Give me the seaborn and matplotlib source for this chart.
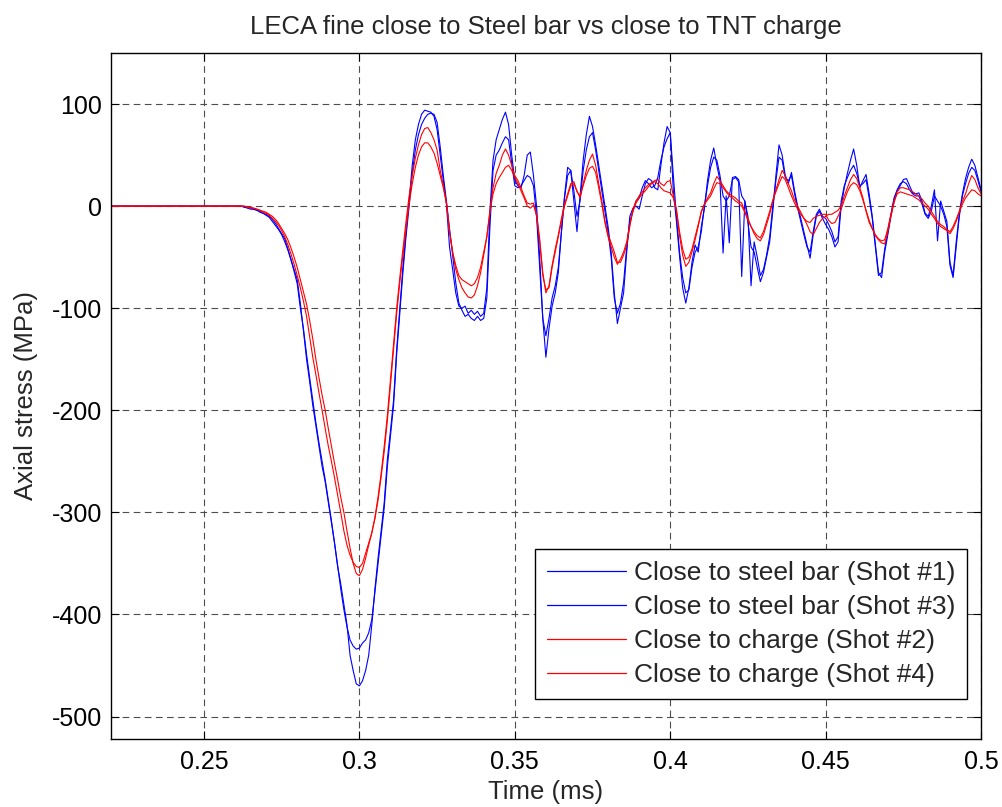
import numpy as np
import pandas as pd
import matplotlib
matplotlib.use("Agg")
import matplotlib.pyplot as plt
from matplotlib.lines import Line2D
import seaborn as sns

# ---------------- data ----------------
TITLE = "LECA fine close to Steel bar vs close to TNT charge"
X_LABEL = "Time (ms)"
Y_LABEL = "Axial stress (MPa)"

X_TICKS = [0.25, 0.3, 0.35, 0.4, 0.45, 0.5]
X_TICK_LABELS = ["0.25", "0.3", "0.35", "0.4", "0.45", "0.5"]
Y_TICKS = [100, 0, -100, -200, -300, -400, -500]
Y_TICK_LABELS = ["100", "0", "-100", "-200", "-300", "-400", "-500"]

SERIES_LABELS = [
    "Close to steel bar (Shot #1)",
    "Close to steel bar (Shot #3)",
    "Close to charge (Shot #2)",
    "Close to charge (Shot #4)",
]

TIME_MS = [
    0.220,
    0.260, 0.261, 0.262, 0.263, 0.264, 0.265, 0.266, 0.267, 0.268, 0.269,
    0.270, 0.271, 0.272, 0.273, 0.274, 0.275, 0.276, 0.277, 0.278, 0.279,
    0.280, 0.281, 0.282, 0.283, 0.284, 0.285, 0.286, 0.287, 0.288, 0.289,
    0.290, 0.291, 0.292, 0.293, 0.294, 0.295, 0.296, 0.297, 0.298, 0.299,
    0.300, 0.301, 0.302, 0.303, 0.304, 0.305, 0.306, 0.307, 0.308, 0.309,
    0.310, 0.311, 0.312, 0.313, 0.314, 0.315, 0.316, 0.317, 0.318, 0.319,
    0.320, 0.321, 0.322, 0.323, 0.324, 0.325, 0.326, 0.327, 0.328, 0.329,
    0.330, 0.331, 0.332, 0.333, 0.334, 0.335, 0.336, 0.337, 0.338, 0.339,
    0.340, 0.341, 0.342, 0.343, 0.344, 0.345, 0.346, 0.347, 0.348, 0.349,
    0.350, 0.351, 0.352, 0.353, 0.354, 0.355, 0.356, 0.357, 0.358, 0.359,
    0.360, 0.361, 0.362, 0.363, 0.364, 0.365, 0.366, 0.367, 0.368, 0.369,
    0.370, 0.371, 0.372, 0.373, 0.374, 0.375, 0.376, 0.377, 0.378, 0.379,
    0.380, 0.381, 0.382, 0.383, 0.384, 0.385, 0.386, 0.387, 0.388, 0.389,
    0.390, 0.391, 0.392, 0.393, 0.394, 0.395, 0.396, 0.397, 0.398, 0.399,
    0.400, 0.401, 0.402, 0.403, 0.404, 0.405, 0.406, 0.407, 0.408, 0.409,
    0.410, 0.411, 0.412, 0.413, 0.414, 0.415, 0.416, 0.417, 0.418, 0.419,
    0.420, 0.421, 0.422, 0.423, 0.424, 0.425, 0.426, 0.427, 0.428, 0.429,
    0.430, 0.431, 0.432, 0.433, 0.434, 0.435, 0.436, 0.437, 0.438, 0.439,
    0.440, 0.441, 0.442, 0.443, 0.444, 0.445, 0.446, 0.447, 0.448, 0.449,
    0.450, 0.451, 0.452, 0.453, 0.454, 0.455, 0.456, 0.457, 0.458, 0.459,
    0.460, 0.461, 0.462, 0.463, 0.464, 0.465, 0.466, 0.467, 0.468, 0.469,
    0.470, 0.471, 0.472, 0.473, 0.474, 0.475, 0.476, 0.477, 0.478, 0.479,
    0.480, 0.481, 0.482, 0.483, 0.484, 0.485, 0.486, 0.487, 0.488, 0.489,
    0.490, 0.491, 0.492, 0.493, 0.494, 0.495, 0.496, 0.497, 0.498, 0.499,
    0.500,
]

STEEL_SHOT1 = [
    0,
    0, 0, 0, -1, -1, -2, -3, -4, -5, -7,
    -8, -10, -13, -17, -22, -27, -32, -42, -52, -62,
    -72, -95, -122, -150, -172, -195, -215, -235, -255, -270,
    -290, -310, -330, -353, -370, -390, -410, -440, -455, -468,
    -470, -465, -455, -440, -410, -375, -345, -318, -290, -248,
    -220, -190, -140, -100, -60, -25, 5, 40, 65, 80,
    90, 94, 93, 92, 88, 75, 50, 25, 2, -40,
    -62, -85, -98, -100, -98, -105, -102, -106, -103, -108,
    -105, -80, -5, 45, 65, 75, 85, 92, 80, 50,
    25, 20, 18, 30, 50, 53, 30, 0, -50, -110,
    -148, -120, -98, -85, -65, -25, 10, 38, 35, 5,
    -25, 10, 45, 70, 88, 78, 60, 40, 20, 0,
    -20, -45, -85, -115, -100, -85, -45, -10, -2, 0,
    -3, 10, 22, 27, 25, 18, 16, 40, 62, 78,
    72, 15, -15, -49, -80, -95, -80, -55, -38, -45,
    -20, -2, 25, 45, 57, 40, 25, -46, 10, -36,
    28, 29, 26, 10, 5, -16, -40, -45, -60, -74,
    -65, -50, -35, -5, 30, 60, 50, 30, 22, 33,
    15, 0, -12, -25, -38, -51, -28, -10, -5, -12,
    -18, -23, -30, -40, -35, 0, 18, 32, 45, 56,
    40, 18, 25, 31, 12, -10, -38, -65, -70, -45,
    -28, -10, 6, 15, 20, 26, 27, 20, 13, 12,
    13, 5, -7, -10, 0, 16, -34, 5, -5, -15,
    -55, -68, -35, -8, 12, 27, 38, 46, 40, 28,
    16,
]

STEEL_SHOT3 = [
    0,
    0, 0, 0, -1, -2, -3, -3, -4, -6, -7,
    -9, -11, -15, -19, -23, -28, -35, -43, -53, -64,
    -76, -100, -120, -145, -168, -190, -212, -232, -250, -268,
    -288, -308, -330, -352, -375, -395, -412, -425, -431, -434,
    -433, -428, -425, -418, -405, -378, -350, -322, -295, -255,
    -225, -195, -145, -105, -65, -30, 0, 32, 55, 70,
    80, 86, 90, 91, 90, 82, 58, 30, 5, -22,
    -48, -75, -95, -102, -108, -106, -110, -112, -108, -112,
    -110, -90, -20, 35, 50, 55, 62, 68, 65, 42,
    20, 18, 20, 25, 30, 28, 20, -10, -60, -110,
    -127, -110, -90, -78, -60, -25, 8, 30, 35, 15,
    -10, 5, 35, 55, 68, 72, 55, 35, 15, -5,
    -25, -50, -90, -105, -95, -75, -40, -15, -5, 5,
    8, 18, 25, 22, 18, 20, 28, 45, 58, 66,
    72, 30, -10, -45, -70, -85, -82, -60, -45, -40,
    -25, 0, 20, 38, 48, 45, 30, 10, 5, 10,
    26, 28, 24, -69, 5, -10, -78, -35, -50, -68,
    -62, -48, -30, 0, 25, 48, 45, 28, 25, 30,
    12, -2, -15, -28, -40, -45, -25, -8, -3, -10,
    -12, -18, -25, -35, -30, 5, 20, 28, 35, 40,
    32, 20, 22, 26, 8, -12, -40, -68, -65, -42,
    -25, -8, 8, 16, 22, 24, 22, 16, 12, 10,
    10, 2, -8, -12, -5, 10, 5, 0, -8, -20,
    -58, -70, -40, -10, 10, 22, 32, 38, 35, 25,
    14,
]

CHARGE_SHOT2 = [
    0,
    0, 0, 0, 0, -1, -2, -2, -3, -4, -6,
    -7, -9, -12, -15, -19, -24, -30, -38, -47, -57,
    -68, -80, -93, -108, -128, -148, -165, -183, -200, -218,
    -235, -250, -266, -283, -300, -318, -332, -342, -349, -353,
    -354, -350, -340, -330, -320, -305, -285, -262, -235, -205,
    -170, -135, -100, -70, -42, -15, 10, 30, 47, 60,
    70, 76, 77, 72, 65, 55, 35, 20, 3, -25,
    -45, -58, -68, -72, -74, -76, -78, -76, -70, -60,
    -45, -30, -5, 18, 32, 40, 50, 56, 50, 40,
    30, 25, 18, 10, 3, 2, 3, -10, -35, -68,
    -82, -80, -60, -45, -30, -15, 0, 10, 20, 22,
    15, 8, 22, 35, 45, 51, 40, 22, 5, -15,
    -28, -36, -45, -55, -55, -48, -38, -20, -3, 5,
    10, 14, 18, 21, 23, 25, 26, 22, 20, 24,
    25, 10, -5, -29, -48, -59, -55, -45, -33, -20,
    -5, 2, 8, 13, 22, 29, 25, 20, 15, 12,
    10, 8, 5, 3, -5, -12, -20, -27, -32, -34,
    -28, -18, -8, 5, 16, 26, 35, 30, 22, 15,
    6, 0, -6, -12, -18, -25, -28, -22, -16, -12,
    -10, -8, -8, -6, -4, 0, 10, 18, 26, 31,
    27, 18, 8, -5, -16, -22, -29, -33, -36, -37,
    -25, -10, 3, 14, 18, 18, 17, 16, 14, 12,
    10, 7, 3, 0, -5, -10, -15, -18, -20, -23,
    -25, -20, -13, -5, 5, 12, 22, 30, 26, 18,
    12,
]

CHARGE_SHOT4 = [
    0,
    0, 0, 0, 0, -1, -1, -2, -3, -4, -5,
    -6, -8, -10, -13, -17, -22, -27, -33, -41, -50,
    -60, -72, -84, -96, -112, -130, -150, -168, -185, -200,
    -218, -235, -252, -268, -285, -300, -318, -335, -350, -360,
    -362, -356, -345, -332, -320, -306, -288, -265, -240, -210,
    -175, -140, -105, -75, -48, -22, 2, 22, 38, 50,
    58, 62, 62, 58, 52, 42, 30, 18, 3, -25,
    -45, -62, -72, -80, -85, -89, -90, -87, -78, -65,
    -48, -30, -5, 12, 22, 28, 33, 38, 40, 35,
    28, 22, 15, 8, 0, -2, 1, -8, -32, -65,
    -85, -78, -58, -42, -28, -12, 2, 12, 22, 24,
    14, 10, 20, 30, 37, 39, 33, 18, 2, -16,
    -30, -40, -50, -57, -52, -45, -35, -18, -5, 3,
    8, 12, 15, 19, 22, 24, 22, 18, 15, 14,
    13, 8, -3, -25, -42, -52, -50, -42, -30, -18,
    -6, 2, 6, 10, 17, 23, 22, 18, 14, 10,
    8, 5, 3, 0, -6, -14, -20, -25, -29, -31,
    -25, -15, -5, 6, 14, 22, 29, 26, 18, 10,
    3, -3, -8, -12, -15, -16, -12, -10, -9, -8,
    -8, -14, -17, -16, -10, -3, 6, 14, 20, 23,
    21, 15, 6, -4, -14, -22, -28, -32, -34, -33,
    -22, -8, 5, 12, 14, 13, 12, 11, 10, 8,
    6, 3, 0, -3, -8, -12, -17, -20, -22, -24,
    -27, -22, -15, -6, 2, 8, 12, 16, 15, 12,
    10,
]

SERIES_VALUES = [STEEL_SHOT1, STEEL_SHOT3, CHARGE_SHOT2, CHARGE_SHOT4]
SERIES_COLORS = ["#0000ff", "#0000ff", "#ff0000", "#ff0000"]

X_LIMITS = (0.22, 0.5)
Y_LIMITS = (-522, 150)

# ---------------- styling ----------------
sns.set_theme(style="ticks")
plt.rcParams["font.family"] = ["Liberation Sans", "DejaVu Sans"]
plt.rcParams["axes.unicode_minus"] = False
FS_TICK = 18
FS_TEXT = 18.5
FS_LEGEND = 19

frames = []
for name, vals in zip(SERIES_LABELS, SERIES_VALUES):
    assert len(vals) == len(TIME_MS), (name, len(vals), len(TIME_MS))
    frames.append(pd.DataFrame({"t": TIME_MS, "stress": vals, "series": name}))
df = pd.concat(frames, ignore_index=True)

fig = plt.figure(figsize=(10.02, 8.07), dpi=100)
ax = fig.add_axes([0.1105, 0.0843, 0.8686, 0.8500])

sns.lineplot(
    data=df, x="t", y="stress", hue="series", hue_order=SERIES_LABELS,
    palette=dict(zip(SERIES_LABELS, SERIES_COLORS)),
    estimator=None, sort=False, linewidth=0.8, ax=ax, legend=False,
)

ax.set_xlim(*X_LIMITS)
ax.set_ylim(*Y_LIMITS)
ax.set_xticks(X_TICKS)
ax.set_xticklabels(X_TICK_LABELS)
ax.set_yticks(Y_TICKS)
ax.set_yticklabels(Y_TICK_LABELS)

ax.grid(True, which="major", linestyle=(0, (6, 4)), color="#4d4d4d", linewidth=0.8)
ax.set_axisbelow(True)

for sp in ax.spines.values():
    sp.set_visible(True)
    sp.set_color("black")
    sp.set_linewidth(1.0)

ax.tick_params(axis="both", direction="in", length=6, width=0.8, colors="black",
               top=True, right=True, labelsize=FS_TICK)
ax.tick_params(axis="x", pad=8)
ax.tick_params(axis="y", pad=6)

ax.set_xlabel(X_LABEL, fontsize=FS_TEXT, labelpad=4)
ax.set_ylabel(Y_LABEL, fontsize=FS_TEXT, labelpad=10)
ax.set_title(TITLE, fontsize=FS_TEXT, pad=14)

handles = [Line2D([0], [0], color=c, linewidth=0.9) for c in SERIES_COLORS]
leg = ax.legend(handles, SERIES_LABELS, loc="lower right",
                bbox_to_anchor=(0.984, 0.058), borderaxespad=0,
                fontsize=FS_LEGEND, frameon=True, fancybox=False, framealpha=1,
                edgecolor="black", handlelength=3.0, handletextpad=0.3,
                labelspacing=0.38, borderpad=0.45)
leg.get_frame().set_linewidth(1.0)

fig.savefig("out.png", dpi=100)
